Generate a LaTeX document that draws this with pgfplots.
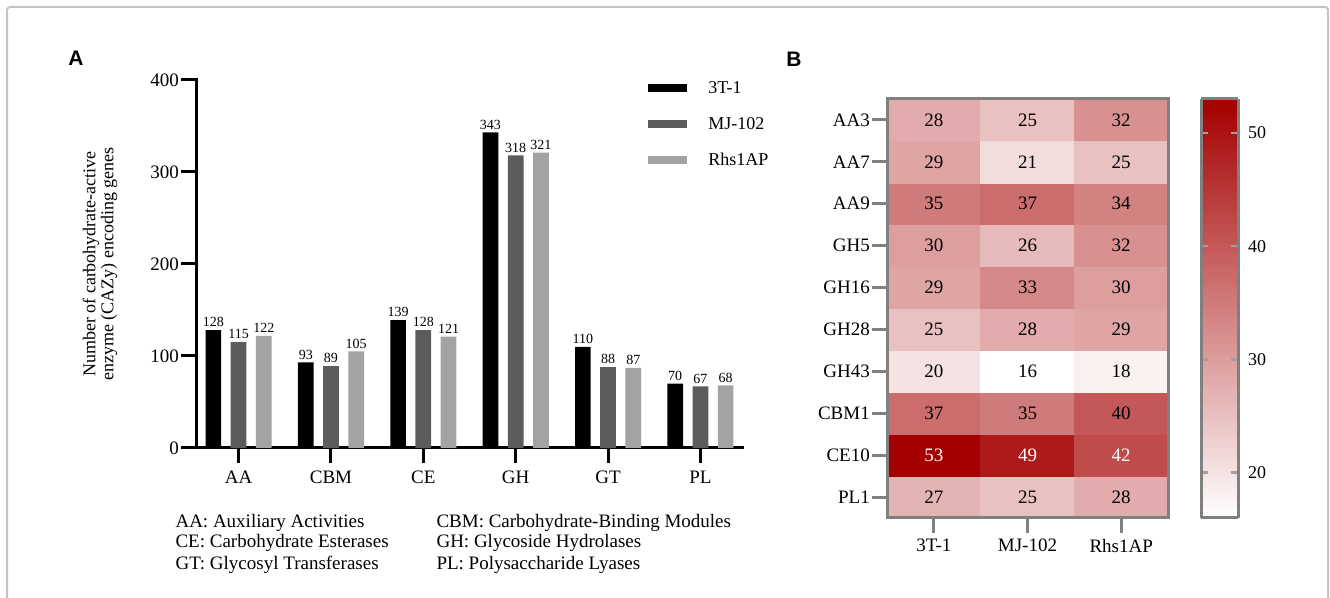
\documentclass[border=0pt]{standalone}
\usepackage{fontspec}
\setmainfont{Liberation Serif}
\newfontfamily\panelfont{Liberation Sans}
\usepackage{pgfplots}
\pgfplotsset{compat=1.18}
\usepackage{pgfplotstable}

\definecolor{barA}{HTML}{000000}
\definecolor{barB}{HTML}{5C5C5C}
\definecolor{barC}{HTML}{A3A3A3}
\definecolor{hmframe}{HTML}{808080}
\definecolor{framegray}{HTML}{C4C4C4}

% CAZy family counts per genome
\pgfplotstableread{
cat a b c
0 128 115 122
1 93 89 105
2 139 128 121
3 343 318 321
4 110 88 87
5 70 67 68
}\cazy

% selected families x genomes; row 0 = PL1 (bottom) ... row 9 = AA3 (top)
\pgfplotstableread{
x y v
0 0 27
1 0 25
2 0 28
0 1 53
1 1 49
2 1 42
0 2 37
1 2 35
2 2 40
0 3 20
1 3 16
2 3 18
0 4 25
1 4 28
2 4 29
0 5 29
1 5 33
2 5 30
0 6 30
1 6 26
2 6 32
0 7 35
1 7 37
2 7 34
0 8 29
1 8 21
2 8 25
0 9 28
1 9 25
2 9 32
}\heat

\newcommand{\fs}[1]{\fontsize{#1}{#1}\selectfont}

\begin{document}
\begin{tikzpicture}[x=1pt,y=1pt]
\useasboundingbox (0,0) rectangle (1330,597);
\draw[framegray, line width=2pt, rounded corners=3pt] (7,-10) -- (7,590) -- (1328,590) -- (1328,-10);

% ---------------- panel A ----------------
\node[font=\panelfont\bfseries\fs{21}] at (76,539) {A};
\begin{scope}[shift={(196,149)}]
\begin{axis}[
  at={(0,0)}, anchor=south west, scale only axis,
  width=546pt, height=368pt,
  xmin=-0.461, xmax=5.45, ymin=0, ymax=400,
  axis lines*=left,
  axis line style={line width=3pt, line cap=rect},
  ytick={0,100,200,300,400},
  xtick={0,1,2,3,4,5},
  xticklabels={AA,CBM,CE,GH,GT,PL},
  tick align=outside, major tick length=15pt,
  tick style={black, line width=3pt},
  tick label style={font=\fs{19}, inner sep=2pt},
  xticklabel style={yshift=-6pt},
  /pgf/number format/assume math mode=true,
  ybar=9.5pt, bar width=15.7pt,
  nodes near coords,
  nodes near coords style={font=\fs{14}, inner sep=3pt, black},
  ylabel={Number of carbohydrate-active\\enzyme (CAZy) encoding genes},
  ylabel style={at={(rel axis cs:-0.176,0.5)}, anchor=center, align=center,
    font=\fontsize{18}{18}\selectfont},
  legend style={at={(rel axis cs:0.828,1.0)}, anchor=north west, draw=none,
    fill=none, font=\fs{18}, row sep=20.5pt, column sep=20pt, inner sep=0pt,
    nodes={inner sep=1pt}},
  legend cell align=left,
  legend image code/.code={\fill[#1] (0pt,-4pt) rectangle (39pt,4pt);},
]
\addplot[fill=barA, draw=none] table[x=cat, y=a]{\cazy};
\addplot[fill=barB, draw=none] table[x=cat, y=b]{\cazy};
\addplot[fill=barC, draw=none] table[x=cat, y=c]{\cazy};
\legend{3T-1, MJ-102, Rhs1AP}
\end{axis}
\end{scope}

\begin{scope}[font=\fs{19}]
\node[anchor=base west] at (172,70) {AA: Auxiliary Activities};
\node[anchor=base west] at (172,49) {CE: Carbohydrate Esterases};
\node[anchor=base west] at (172,28) {GT: Glycosyl Transferases};
\node[anchor=base west] at (433,70) {CBM: Carbohydrate-Binding Modules};
\node[anchor=base west] at (433,49) {GH: Glycoside Hydrolases};
\node[anchor=base west] at (433,28) {PL: Polysaccharide Lyases};
\end{scope}

% ---------------- panel B ----------------
\node[font=\panelfont\bfseries\fs{21}] at (794,538) {B};
\begin{scope}[shift={(887,79)}]
\begin{axis}[
  at={(0,0)}, anchor=south west, scale only axis,
  width=281pt, height=419pt,
  xmin=-0.5, xmax=2.5, ymin=-0.5, ymax=9.5,
  xtick={0,1,2}, xticklabels={3T-1,MJ-102,Rhs1AP},
  ytick={0,...,9},
  yticklabels={PL1,CE10,CBM1,GH43,GH28,GH16,GH5,AA9,AA7,AA3},
  tick align=outside, major tick length=15pt,
  tick style={hmframe, line width=3pt},
  xtick pos=bottom, ytick pos=left,
  axis line style={hmframe, line width=3pt},
  tick label style={font=\fs{19}, inner sep=2pt},
  xticklabel style={yshift=-4pt},
  axis on top,
  colormap={whitered}{rgb255=(255,255,255) rgb255=(165,0,0)},
  point meta min=16, point meta max=53,
  colorbar sampled,
  colorbar shift/.style={xshift=33pt},
  colorbar style={
    at={(parent axis.north east)}, anchor=north west,
    width=37pt,
    samples=150,
    ytick={20,30,40,50},
    ytick pos=both, yticklabel pos=right,
    tick align=inside, major tick length=7pt,
    tick style={hmframe!75, line width=2.5pt},
    axis line style={hmframe, line width=3pt},
    axis on top,
    yticklabel style={font=\fs{18}, xshift=8pt},
    /pgf/number format/assume math mode=true,
  },
]
\addplot[matrix plot*, mesh/cols=3, point meta=explicit]
  table[x=x, y=y, meta=v]{\heat};
\addplot[draw=none, mark=none,
  visualization depends on={\thisrow{v} \as \cellval},
  nodes near coords={\pgfmathtruncatemacro\cv{\cellval}\ifnum\cv>40 \color{white}\fi\cv},
  every node near coord/.append style={anchor=center, font=\fs{19}}]
  table[x=x, y=y]{\heat};
\end{axis}
\end{scope}
\end{tikzpicture}
\end{document}
